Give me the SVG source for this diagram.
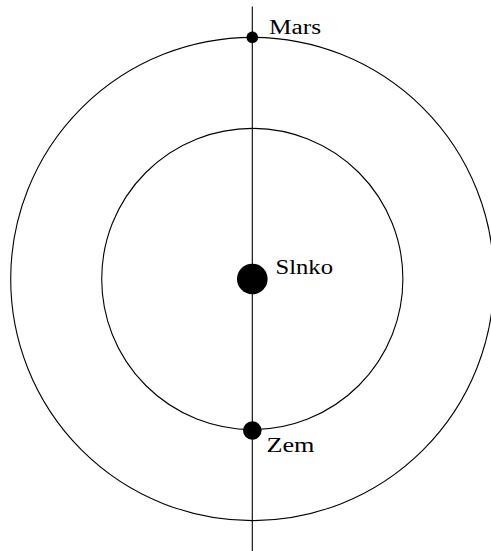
<svg xmlns="http://www.w3.org/2000/svg" width="491" height="551" viewBox="0 0 491 551">
<style>
.orbit{fill:none;stroke:#000;stroke-width:1.1}
.axis{stroke:#000;stroke-width:1.1}
.body{fill:#000}
.lbl{font-family:"Liberation Serif","DejaVu Serif",serif;font-size:20.5px;fill:#000}
</style>
<rect width="491" height="551" fill="#fff"/>
<g id="orbits">
<circle class="orbit" cx="252.3" cy="279" r="241.6"/>
<circle class="orbit" cx="252.3" cy="279" r="150.6"/>
</g>
<g id="connectors">
<line class="axis" x1="252.3" y1="6.5" x2="252.3" y2="551"/>
</g>
<g id="mars">
<circle class="body" cx="252.3" cy="37.4" r="5.8"/>
<text class="lbl" x="269" y="33.5" textLength="52" lengthAdjust="spacingAndGlyphs">Mars</text>
</g>
<g id="slnko">
<circle class="body" cx="252.3" cy="279" r="15.3"/>
<text class="lbl" x="275.5" y="273.5" textLength="57.5" lengthAdjust="spacingAndGlyphs">Slnko</text>
</g>
<g id="zem">
<circle class="body" cx="252.3" cy="430.5" r="9.3"/>
<text class="lbl" x="266.5" y="451.5" textLength="48" lengthAdjust="spacingAndGlyphs">Zem</text>
</g>
</svg>
